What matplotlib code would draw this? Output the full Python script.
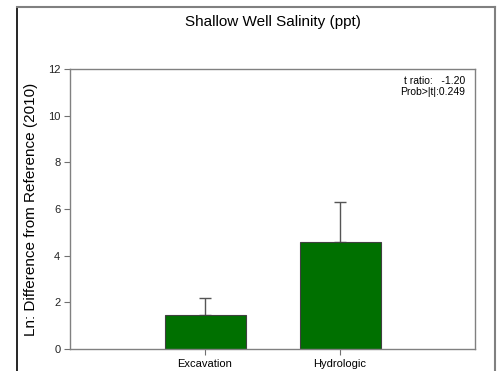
import matplotlib
matplotlib.use("Agg")
import matplotlib.pyplot as plt
from matplotlib.lines import Line2D

plt.rcParams['font.family'] = ['Liberation Sans', 'DejaVu Sans']

categories = ["Excavation", "Hydrologic"]
means = [1.47, 4.57]
upper_err = [0.73, 1.75]
y_ticks = [0, 2, 4, 6, 8, 10, 12]

W, H = 499, 371
fig = plt.figure(figsize=(W / 100, H / 100), dpi=100)
ax = fig.add_axes([70 / W, 1 - 349 / H, 405 / W, 280 / H])

pos = [1, 2]
ax.bar(pos, means, width=0.6, color="#007000", edgecolor="#404040", linewidth=0.8, zorder=2)
ax.errorbar(pos, means, yerr=[[0, 0], upper_err], fmt="none", ecolor="#555555",
            elinewidth=1.0, capsize=4, capthick=1.0, zorder=1)

ax.set_xlim(0, 3)
ax.set_ylim(0, 12)
ax.set_xticks(pos)
ax.set_xticklabels(categories, fontsize=8)
ax.set_yticks(y_ticks)
ax.set_yticklabels([str(t) for t in y_ticks], fontsize=8, color="#222222")
ax.tick_params(axis="both", direction="out", length=4, width=0.8, color="#707070", pad=3)
for s in ax.spines.values():
    s.set_color("#808080")
    s.set_linewidth(1.0)

ax.set_ylabel("Ln: Difference from Reference (2010)", fontsize=11, labelpad=7)
ax.set_title("Shallow Well Salinity (ppt)", fontsize=11, pad=31)

ax.text(0.975, 0.975, "t ratio:   -1.20\nProb>|t|:0.249", transform=ax.transAxes,
        ha="right", va="top", fontsize=7.5, linespacing=1.15)

# outer frame
fig.add_artist(Line2D([17 / W, 17 / W], [0, 1 - 7 / H], color="black", linewidth=1.2))
fig.add_artist(Line2D([17 / W, 495 / W], [1 - 7 / H, 1 - 7 / H], color="#808080", linewidth=1.5))
fig.add_artist(Line2D([495 / W, 495 / W], [0, 1 - 7 / H], color="#808080", linewidth=1.5))

fig.savefig("out.png", dpi=100)
